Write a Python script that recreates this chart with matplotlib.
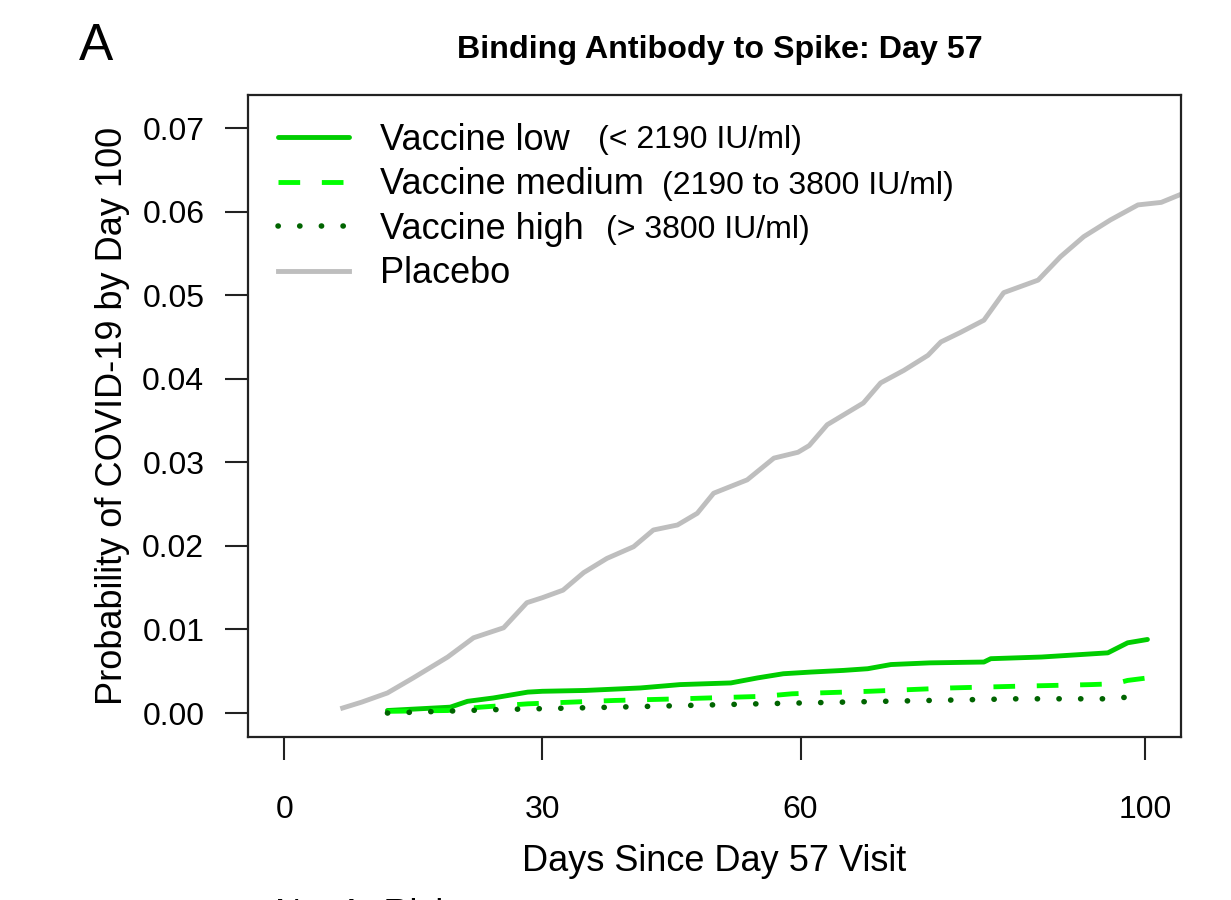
import matplotlib
matplotlib.use("Agg")
import matplotlib.pyplot as plt

plt.rcParams['font.family'] = ['Liberation Sans', 'DejaVu Sans']

# ---- data ----
placebo_days = [6.8, 9, 12, 15, 19, 22, 25.5, 28.2, 30, 32.4, 34.8, 37.5, 40.6, 42.9,
                45.7, 48, 49.9, 53.8, 56.9, 59.7, 61, 63.1, 67.3, 69.3, 72, 74.8, 76.3,
                78.5, 81.3, 83.6, 87.6, 90.2, 92.9, 96, 99.2, 101.9, 104.5]
placebo_prob = [0.0006, 0.0013, 0.0024, 0.0042, 0.0067, 0.0090, 0.0102, 0.0132, 0.0138,
                0.0147, 0.0168, 0.0185, 0.0199, 0.0219, 0.0225, 0.0239, 0.0263, 0.0279,
                0.0305, 0.0312, 0.0320, 0.0345, 0.0371, 0.0395, 0.0410, 0.0428, 0.0444,
                0.0455, 0.0470, 0.0503, 0.0518, 0.0546, 0.0570, 0.0590, 0.0608, 0.0611,
                0.0622]

low_days = [12, 19.3, 21.3, 24.3, 28.3, 30, 35, 41.4, 46, 51.9, 55, 58, 61.2, 65, 67.8,
            70.5, 75, 81.3, 82.1, 88, 95.7, 98, 100.3]
low_prob = [0.0003, 0.0007, 0.0014, 0.0018, 0.0025, 0.0026, 0.0027, 0.0030, 0.0034,
            0.0036, 0.0042, 0.0047, 0.0049, 0.0051, 0.0053, 0.0058, 0.0060, 0.0061,
            0.0065, 0.0067, 0.0072, 0.0084, 0.0088]

med_days = [12, 19, 22.8, 28.3, 38.3, 46, 55.7, 59, 68, 77.4, 85, 93.7, 96.5, 98, 100.3]
med_prob = [0.0002, 0.0003, 0.0007, 0.0011, 0.0015, 0.0017, 0.0020, 0.0023, 0.0026,
            0.0030, 0.0032, 0.0034, 0.0035, 0.0039, 0.0042]

high_days = [12, 24.3, 38.3, 55, 69.7, 85.2, 96.5, 98.5]
high_prob = [0.0000, 0.0004, 0.0007, 0.0011, 0.0014, 0.0017, 0.0017, 0.0020]

legend_labels = ["Vaccine low", "Vaccine medium", "Vaccine high", "Placebo"]
legend_notes = ["(< 2190 IU/ml)", "(2190 to 3800 IU/ml)", "(> 3800 IU/ml)"]
x_ticks = [0, 30, 60, 100]
y_ticks = [0.00, 0.01, 0.02, 0.03, 0.04, 0.05, 0.06, 0.07]

# ---- figure ----
W, H = 1231, 900
fig = plt.figure(figsize=(W / 100, H / 100), dpi=100)
ax = fig.add_axes([248 / W, 1 - 737 / H, (1181 - 248) / W, (737 - 95) / H])

lw = 3.5
seg = 15.6 / lw
lw_dot = 4.0
seg_dot = 15.6 / lw_dot
h_low, = ax.plot(low_days, low_prob, color='#00CD00', lw=lw, solid_capstyle='round')
h_med, = ax.plot(med_days, med_prob, color='#00FF00', lw=lw, dashes=(seg, seg),
                 dash_capstyle='butt')
h_high, = ax.plot(high_days, high_prob, color='#006400', lw=lw_dot,
                  dashes=(0.05, seg_dot - 0.05), dash_capstyle='round')
h_pla, = ax.plot(placebo_days, placebo_prob, color='#BEBEBE', lw=lw)

ax.set_xlim(-4.2, 104.2)
ax.set_ylim(-0.00287, 0.07395)
ax.set_xticks(x_ticks)
ax.set_xticklabels([str(t) for t in x_ticks])
ax.set_yticks(y_ticks)
ax.set_yticklabels([f"{t:.2f}" for t in y_ticks])
ax.tick_params(axis='both', direction='out', length=16.5, width=1.5, labelsize=23,
               color='#222222')
ax.tick_params(axis='y', pad=15)
ax.tick_params(axis='x', pad=25)
for s in ax.spines.values():
    s.set_linewidth(1.6)
    s.set_color('#222222')

ax.set_xlabel("Days Since Day 57 Visit", fontsize=26, labelpad=14)
ax.set_ylabel("Probability of COVID-19 by Day 100", fontsize=26, labelpad=9)

fig.text(720 / W, 1 - 50 / H, "Binding Antibody to Spike: Day 57", fontsize=23.2,
         fontweight='bold', ha='center', va='center')
fig.text(79 / W, 1 - 46 / H, "A", fontsize=37, ha='left', va='center')
fig.text(275 / W, 1 - 898 / H, "No. At Risk", fontsize=26, ha='left', va='top')

leg = ax.legend([h_low, h_med, h_high, h_pla], legend_labels, loc='upper left',
                bbox_to_anchor=(30 / 933, 1 - 28 / 642), frameon=False, fontsize=26,
                handlelength=1.97, handletextpad=0.86, labelspacing=0.26,
                borderaxespad=0.0, borderpad=0.0)

note_pos = [(598, 140), (662, 186), (606, 230)]
for note, (px, py) in zip(legend_notes, note_pos):
    fig.text(px / W, 1 - py / H, note, fontsize=23, ha='left', va='center')

fig.savefig("out.png", dpi=100)
